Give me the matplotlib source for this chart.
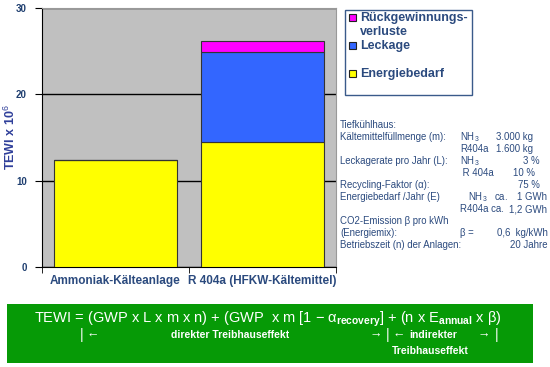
import numpy as np
import matplotlib
matplotlib.use("Agg")
import matplotlib.pyplot as plt
from matplotlib.patches import Rectangle

plt.rcParams['font.family'] = ['Liberation Sans', 'DejaVu Sans']
plt.rcParams['mathtext.fontset'] = 'custom'
plt.rcParams['mathtext.rm'] = 'Liberation Sans'
plt.rcParams['mathtext.it'] = 'Liberation Sans'
plt.rcParams['mathtext.bf'] = 'Liberation Sans:bold'

# data (TEWI x 10^6)
anlagen = ['Ammoniak-Kälteanlage', 'R 404a (HFKW-Kältemittel)']
energiebedarf = [12.4, 14.5]
leckage = [0.0, 10.4]
rueckgewinnung = [0.0, 1.3]
yticks = [0, 10, 20, 30]

serien = ['Rückgewinnungs-\nverluste', 'Leckage', 'Energiebedarf']
farben = ['#FF00FF', '#3366FF', '#FFFF00']

txt_blau = '#2B4A7E'

fig = plt.figure(figsize=(5.5, 3.67), dpi=100)
ax = fig.add_axes([42 / 550, 100 / 367, 294 / 550, 259 / 367])
ax.set_facecolor('#C0C0C0')

x = np.arange(len(anlagen))
b = 0.83
ax.bar(x, energiebedarf, b, color=farben[2], edgecolor='#333333', lw=0.8, zorder=3)
ax.bar(x, leckage, b, bottom=energiebedarf, color=farben[1],
       edgecolor='#333333', lw=0.8, zorder=3)
unten = np.array(energiebedarf) + np.array(leckage)
ax.bar(x, rueckgewinnung, b, bottom=unten, color=farben[0],
       edgecolor='#333333', lw=0.8, zorder=3)

ax.set_xlim(-0.5, 1.5)
ax.set_ylim(0, 30)
ax.set_yticks(yticks)
ax.set_yticklabels([str(v) for v in yticks], fontsize=7, fontweight='bold', color='#1F3F70')
ax.yaxis.grid(True, color='black', lw=1, zorder=1)
ax.set_xticks(x)
ax.set_xticklabels(anlagen, fontsize=8.5, fontweight='bold', color=txt_blau)
ax.set_xticks([-0.5, 0.5, 1.5], minor=True)
ax.tick_params(axis='x', which='major', length=0, pad=6)
ax.tick_params(axis='x', which='minor', length=4, direction='out')
ax.tick_params(axis='y', length=5, direction='out', pad=6)
for s in ['top', 'right']:
    ax.spines[s].set_color('#999999')
for s in ['left', 'bottom']:
    ax.spines[s].set_color('black')
ax.set_ylabel('TEWI x 10$^{6}$', fontsize=9, fontweight='bold', color='#2F3F9A')
ax.yaxis.set_label_coords(-0.083, 0.5)

# legend box
fig.patches.append(Rectangle((345 / 550, 1 - 95 / 367), 127 / 550, 85 / 367,
                             transform=fig.transFigure, fc='white', ec='#3A5A8A', lw=1))
leg_y = [17, 45, 73]
for lab, f, yy in zip(serien, farben, leg_y):
    fig.patches.append(Rectangle((349 / 550, 1 - (yy + 4) / 367), 7 / 550, 7 / 367,
                                 transform=fig.transFigure, fc=f, ec='#222222', lw=0.8))
    fig.text(360 / 550, 1 - (yy - 5) / 367, lab, fontsize=9, fontweight='bold',
             color=txt_blau, va='top', linespacing=1.2)

# info block
fs = 6.9
zeilen = [
    (125, 'Tiefkühlhaus:', '', ''),
    (137, 'Kältemittelfüllmenge (m):', 'NH$_3$', '3.000 kg'),
    (149, '', 'R404a', '1.600 kg'),
    (161, 'Leckagerate pro Jahr (L):', 'NH$_3$', '3 %'),
    (173, '', ' R 404a', '10 %'),
    (185, 'Recycling-Faktor (α):', '', '75 %'),
    (197, 'Energiebedarf /Jahr (E)', '   NH$_3$   ca.', '1 GWh'),
    (209, '', 'R404a ca.', '1,2 GWh'),
    (221, 'CO2-Emission β pro kWh', '', ''),
    (233, '(Energiemix):', 'β =', '0,6  kg/kWh'),
    (245, 'Betriebszeit (n) der Anlagen:', '', '20 Jahre'),
]
rechts = {'3.000 kg': 533, '1.600 kg': 533, '3 %': 540, '10 %': 535,
          '75 %': 540, '1 GWh': 547, '1,2 GWh': 547, '0,6  kg/kWh': 548,
          '20 Jahre': 547}
for yy, a, bb, c in zeilen:
    yf = 1 - yy / 367
    if a:
        fig.text(340 / 550, yf, a, fontsize=fs, color=txt_blau, va='center')
    if bb:
        fig.text(460 / 550, yf, bb, fontsize=fs, color=txt_blau, va='center')
    if c:
        fig.text(rechts[c] / 550, yf, c, fontsize=fs, color=txt_blau,
                 va='center', ha='right')

# formula box
fig.patches.append(Rectangle((7 / 550, 1 - 363 / 367), 526 / 550, 59 / 367,
                             transform=fig.transFigure, fc='#069A06', ec='none'))
formel = (r'TEWI = (GWP x L x m x n) + (GWP  x m [1 $-$ $\alpha_{\mathbf{recovery}}$]'
          r' + (n x E$_{\mathbf{annual}}$ x β)')
fig.text(268 / 550, 1 - 319 / 367, formel, fontsize=10.5, color='white',
         ha='center', va='center')

zeile2 = [(82, '|', 10, 'normal'), (93, '←', 9, 'normal'),
          (230, 'direkter Treibhauseffekt', 7.5, 'bold'),
          (376, '→', 9, 'normal'), (388, '|', 10, 'normal'), (399, '←', 9, 'normal'),
          (433, 'indirekter', 7.5, 'bold'),
          (484, '→', 9, 'normal'), (497, '|', 10, 'normal')]
for xx, t, f, w in zeile2:
    fig.text(xx / 550, 1 - 335 / 367, t, fontsize=f, fontweight=w, color='white',
             ha='center', va='center')
fig.text(430 / 550, 1 - 351 / 367, 'Treibhauseffekt', fontsize=7.5,
         color='white', fontweight='bold', ha='center', va='center')

fig.savefig('out.png', dpi=100)
